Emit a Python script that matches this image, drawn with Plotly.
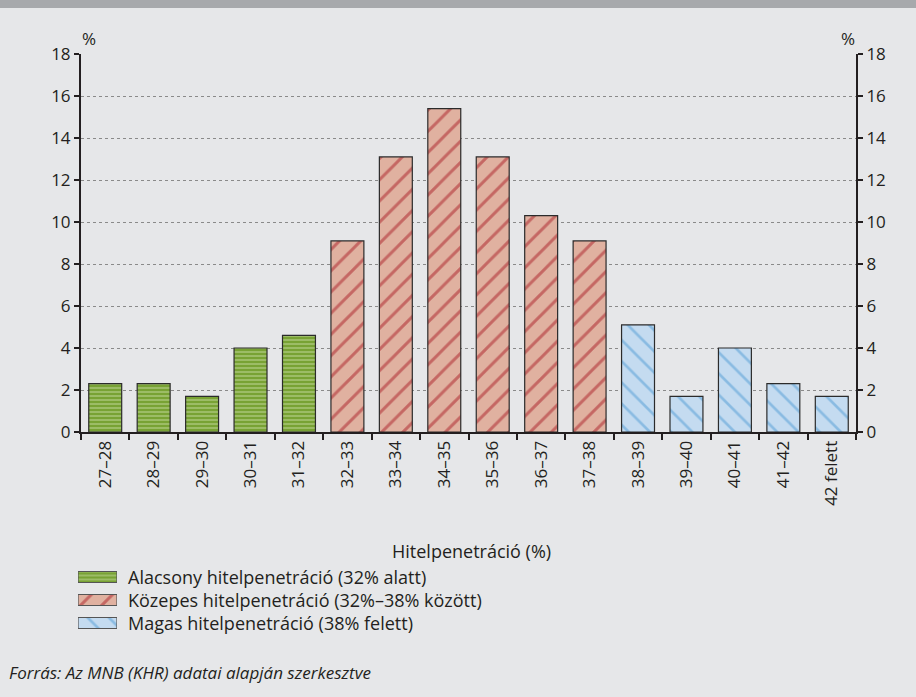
import plotly.graph_objects as go

# ==========================================================
# DATA
# ==========================================================

CATEGORIES = ["27–28", "28–29", "29–30", "30–31", "31–32",
              "32–33", "33–34", "34–35", "35–36", "36–37", "37–38",
              "38–39", "39–40", "40–41", "41–42", "42 felett"]

VALUES = [2.3, 2.3, 1.7, 4.0, 4.6,
          9.1, 13.1, 15.4, 13.1, 10.3, 9.1,
          5.1, 1.7, 4.0, 2.3, 1.7]

GROUP_NAMES = ["Alacsony hitelpenetráció (32% alatt)",
               "Közepes hitelpenetráció (32%–38% között)",
               "Magas hitelpenetráció (38% felett)"]

GROUP_SLICES = [(0, 5), (5, 11), (11, 16)]

X_TITLE = "Hitelpenetráció (%)"
SOURCE = "Forrás: Az MNB (KHR) adatai alapján szerkesztve"

# ==========================================================
# STYLE
# ==========================================================

BG = "#e6e7e9"
FONT = "Open Sans"
INK = "#231f20"
W, H = 916, 697

STYLES = [
    dict(bg="#78a234", fg="#c8dda2", shape="-", size=4, solidity=0.45),
    dict(bg="#e0b1a0", fg="#a91d25", shape="/", size=15, solidity=0.2),
    dict(bg="#c4dbf0", fg="#4f9bd4", shape="\\", size=15, solidity=0.18),
]


def fx(pix):
    return pix / W


def fy(pix):
    return 1 - pix / H


def marker_for(st, edge="#2b2b2b"):
    return dict(
        color=st["bg"],
        line=dict(color=edge, width=1.2),
        pattern=dict(
            shape=st["shape"],
            fgcolor=st["fg"],
            bgcolor=st["bg"],
            size=st["size"],
            solidity=st["solidity"],
            fillmode="overlay",
        ),
    )


fig = go.Figure()

# main bars
for name, (a, b), st in zip(GROUP_NAMES, GROUP_SLICES, STYLES):
    fig.add_trace(go.Bar(
        x=CATEGORIES[a:b],
        y=VALUES[a:b],
        name=name,
        marker=marker_for(st),
        width=0.68,
        showlegend=False,
    ))

# invisible trace to carry right axis
fig.add_trace(go.Scatter(
    x=CATEGORIES, y=VALUES, yaxis="y2",
    mode="markers", marker=dict(opacity=0),
    showlegend=False, hoverinfo="skip",
))

# legend keys (drawn as wide swatches like the original)
for name, st in zip(GROUP_NAMES, STYLES):
    fig.add_trace(go.Bar(
        x=[1], y=[name], orientation="h",
        xaxis="x3", yaxis="y3",
        marker=marker_for(st, edge="#555555"),
        width=0.48, showlegend=False, hoverinfo="skip",
    ))

# ==========================================================
# LAYOUT
# ==========================================================

axis_common = dict(
    range=[0, 18],
    dtick=2,
    ticks="outside",
    ticklen=5,
    tickwidth=2,
    tickcolor=INK,
    showline=True,
    linecolor=INK,
    linewidth=2,
    zeroline=False,
    automargin=False,
    domain=[fy(432), fy(54)],
    tickfont=dict(size=17, color=INK),
)


def note(text, x, y, size=18, anchor="center"):
    return dict(text=text, xref="paper", yref="paper", x=fx(x), y=fy(y),
                xanchor=anchor, yanchor="middle", showarrow=False,
                font=dict(size=size, color=INK))


fig.update_layout(
    width=W,
    height=H,
    paper_bgcolor=BG,
    plot_bgcolor=BG,
    font=dict(family=FONT, color=INK),
    margin=dict(l=0, r=0, t=0, b=0),
    showlegend=False,
    xaxis=dict(
        type="category",
        domain=[fx(81), fx(856)],
        tickson="boundaries",
        ticks="outside",
        ticklen=6,
        tickwidth=2,
        tickcolor=INK,
        showline=True,
        linecolor=INK,
        linewidth=2,
        tickangle=-90,
        tickfont=dict(size=17, color=INK),
        showgrid=False,
        automargin=False,
        range=[-0.5, 15.5],
    ),
    yaxis=dict(
        **axis_common,
        side="left",
        showgrid=True,
        gridcolor="#8a8a8a",
        griddash="dot",
        gridwidth=1,
    ),
    yaxis2=dict(
        **axis_common,
        side="right",
        overlaying="y",
        showgrid=False,
    ),
    xaxis3=dict(
        domain=[fx(78), fx(117)], range=[0, 1], visible=False,
        anchor="y3", fixedrange=True,
    ),
    yaxis3=dict(
        domain=[fy(634.5), fy(565.5)], type="category",
        categoryorder="array", categoryarray=GROUP_NAMES,
        range=[2.5, -0.5], visible=False, anchor="x3", fixedrange=True,
    ),
    shapes=[
        dict(type="rect", xref="paper", yref="paper",
             x0=0, x1=1, y0=fy(8), y1=1,
             fillcolor="#a7a9ac", line=dict(width=0), layer="below"),
    ],
    annotations=[
        note("%", 89, 38, 17),
        note("%", 848, 38, 17),
        note(X_TITLE, 471, 551, 18),
        note(GROUP_NAMES[0], 126, 577, 18, anchor="left"),
        note(GROUP_NAMES[1], 126, 600, 18, anchor="left"),
        note(GROUP_NAMES[2], 126, 623, 18, anchor="left"),
        note("<i>" + SOURCE + "</i>", 7, 672, 17, anchor="left"),
    ],
)

fig.write_html("out.html", config={"displayModeBar": False},
               post_script="document.body.style.margin='0';")
